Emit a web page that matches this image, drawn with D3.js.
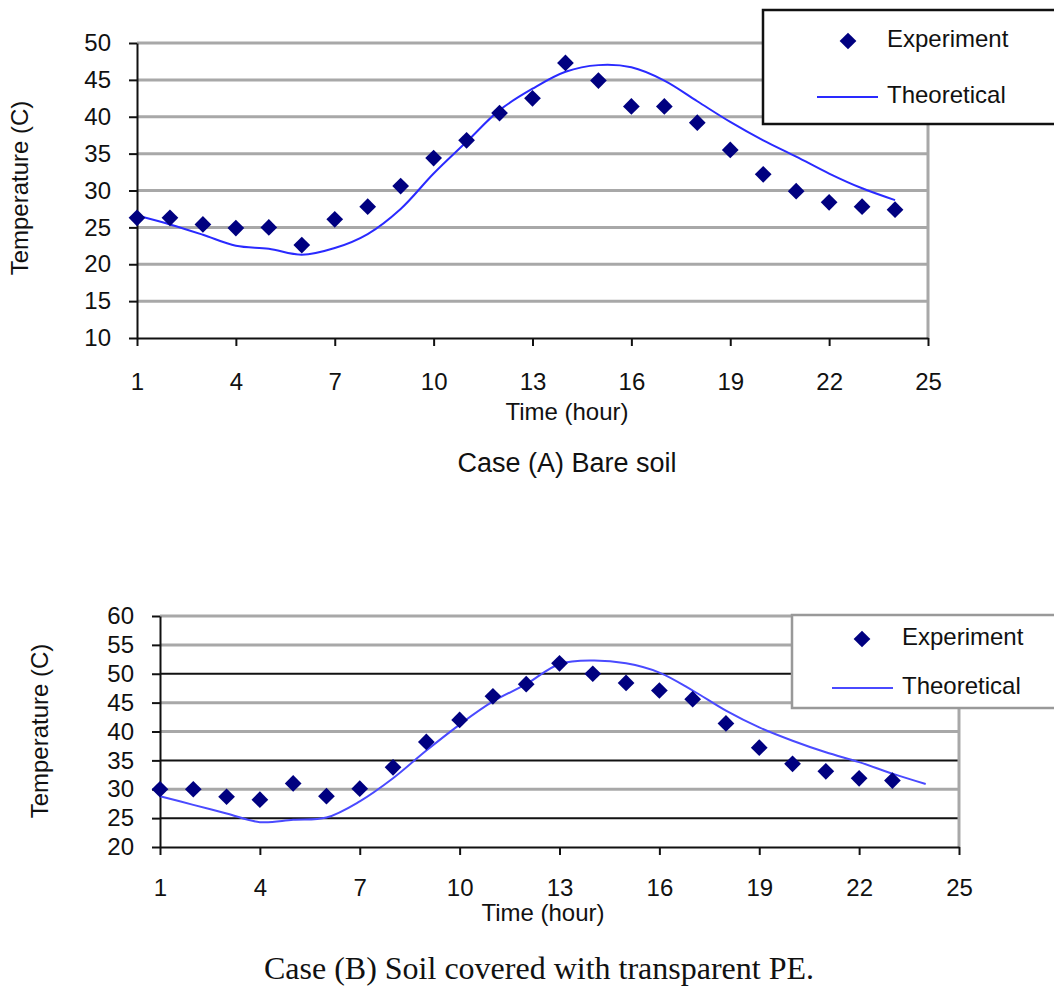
<!DOCTYPE html>
<html>
<head>
<meta charset="utf-8">
<script src="https://cdn.jsdelivr.net/npm/d3@7"></script>
<style>
  body { margin: 0; background: #fff; }
  svg { display: block; }
  text { font-family: "Liberation Sans", Arial, sans-serif; fill: #111; }
</style>
</head>
<body>
<script>
// données
const hours = [1, 2, 3, 4, 5, 6, 7, 8, 9, 10, 11, 12, 13, 14, 15, 16, 17, 18, 19, 20, 21, 22, 23, 24];
const xTicks = [1, 4, 7, 10, 13, 16, 19, 22, 25];

// Case (A) bare soil
const expA = [26.3, 26.3, 25.4, 24.9, 25.0, 22.6, 26.1, 27.8, 30.6, 34.4, 36.8, 40.5, 42.5, 47.3, 44.9, 41.4, 41.4, 39.2, 35.5, 32.2, 29.9, 28.4, 27.8, 27.4];
const theoA = [26.6, 25.4, 24.0, 22.5, 22.1, 21.3, 22.2, 24.1, 27.5, 32.3, 36.6, 40.9, 43.8, 46.1, 47.0, 46.7, 44.9, 42.1, 39.3, 36.8, 34.6, 32.3, 30.3, 28.7];
const yTicksA = [10, 15, 20, 25, 30, 35, 40, 45, 50];

// Case (B) transparent PE
const expB = [30.0, 30.0, 28.7, 28.2, 31.0, 28.8, 30.1, 33.8, 38.2, 42.0, 46.1, 48.2, 51.8, 50.0, 48.4, 47.1, 45.6, 41.4, 37.2, 34.4, 33.1, 31.9, 31.5];
const theoB = [28.8, 27.3, 25.8, 24.3, 24.7, 25.1, 27.9, 31.9, 36.7, 41.2, 45.2, 48.2, 51.7, 52.3, 51.8, 50.2, 47.1, 43.6, 40.7, 38.4, 36.4, 34.7, 32.7, 30.9];
const yTicksB = [20, 25, 30, 35, 40, 45, 50, 55, 60];
const darkLinesB = [25, 35, 50]; // lignes noires du graphe B

const svg = d3.select("body").append("svg")
  .attr("width", 1054)
  .attr("height", 989);

function drawChart(o) {
  const x = d3.scaleLinear().domain([1, 25]).range([o.left, o.right]);
  const y = d3.scaleLinear().domain(d3.extent(o.yTicks)).range([o.bottom, o.top]);
  const g = svg.append("g");

  // grille horizontale
  g.selectAll(".grid")
    .data(o.yTicks.slice(1))
    .enter().append("line")
    .attr("x1", o.left).attr("x2", o.right)
    .attr("y1", d => y(d)).attr("y2", d => y(d))
    .attr("stroke", d => o.dark.includes(d) ? "#111" : "#a8a8a8")
    .attr("stroke-width", d => o.dark.includes(d) ? 2 : 3);

  // bord droit gris
  g.append("line")
    .attr("x1", o.right).attr("x2", o.right)
    .attr("y1", o.top).attr("y2", o.bottom)
    .attr("stroke", "#a8a8a8").attr("stroke-width", 3);

  // axe y
  const ay = g.append("g")
    .attr("transform", "translate(" + o.left + ",0)")
    .call(d3.axisLeft(y).tickValues(o.yTicks).tickSize(8).tickSizeOuter(0).tickPadding(18));
  // axe x
  const ax = g.append("g")
    .attr("transform", "translate(0," + o.bottom + ")")
    .call(d3.axisBottom(x).tickValues(xTicks).tickSize(8).tickSizeOuter(0).tickPadding(o.xPad));
  [ay, ax].forEach(a => {
    a.select(".domain").attr("stroke", "#111").attr("stroke-width", 2);
    a.selectAll(".tick line").attr("stroke", "#111").attr("stroke-width", 2);
    a.selectAll(".tick text")
      .style("font-family", "'Liberation Sans', Arial, sans-serif")
      .style("font-size", "24px").attr("fill", "#111");
  });

  // courbe théorique
  const line = d3.line()
    .x((d, i) => x(hours[i]))
    .y(d => y(d))
    .curve(d3.curveCatmullRom.alpha(0.5));
  g.append("path")
    .datum(o.theo)
    .attr("fill", "none")
    .attr("stroke", o.lineColor)
    .attr("stroke-width", 2)
    .attr("d", line);

  // points expérimentaux
  const sym = d3.symbol().type(d3.symbolSquare).size(140);
  g.selectAll(".pt")
    .data(o.exp)
    .enter().append("path")
    .attr("d", sym)
    .attr("fill", "#000080")
    .attr("transform", (d, i) => "translate(" + x(hours[i]) + "," + y(d) + ") rotate(45)");

  // titres
  g.append("text")
    .attr("transform", "translate(" + o.yTitle[0] + "," + o.yTitle[1] + ") rotate(-90)")
    .attr("text-anchor", "middle").attr("dominant-baseline", "middle")
    .style("font-size", "24px").text("Temperature (C)");
  g.append("text")
    .attr("x", o.xTitle[0]).attr("y", o.xTitle[1])
    .attr("text-anchor", "middle").attr("dominant-baseline", "middle")
    .style("font-size", "24px").text("Time (hour)");
  g.append("text")
    .attr("x", o.caption[0]).attr("y", o.caption[1])
    .attr("text-anchor", "middle").attr("dominant-baseline", "middle")
    .style("font-family", o.captionFont)
    .style("font-size", o.captionSize).text(o.captionText);

  // légende
  const L = o.legend;
  const lg = g.append("g");
  lg.append("rect")
    .attr("x", L.x).attr("y", L.y).attr("width", 1070 - L.x).attr("height", L.h)
    .attr("fill", "#fff").attr("stroke", L.stroke).attr("stroke-width", 2.5);
  lg.append("path")
    .attr("d", sym)
    .attr("fill", "#000080")
    .attr("transform", "translate(" + L.symX + "," + L.row1 + ") rotate(45)");
  lg.append("line")
    .attr("x1", L.lineX[0]).attr("x2", L.lineX[1])
    .attr("y1", L.row2).attr("y2", L.row2)
    .attr("stroke", o.lineColor).attr("stroke-width", 2);
  lg.append("text").attr("x", L.textX).attr("y", L.row1)
    .attr("dominant-baseline", "middle").style("font-size", "24px").text("Experiment");
  lg.append("text").attr("x", L.textX).attr("y", L.row2)
    .attr("dominant-baseline", "middle").style("font-size", "24px").text("Theoretical");
}

drawChart({
  left: 137, right: 928, top: 43, bottom: 338,
  yTicks: yTicksA, dark: [], exp: expA, theo: theoA,
  lineColor: "#2a2aff", xPad: 27,
  yTitle: [22, 188], xTitle: [567, 414],
  caption: [567, 465], captionText: "Case (A) Bare soil",
  captionFont: "'Liberation Sans Narrow', 'Arial Narrow', 'Liberation Sans', sans-serif", captionSize: "27px",
  legend: { x: 763, y: 10, h: 114, stroke: "#111", symX: 848, row1: 41, row2: 97, lineX: [817, 878], textX: 887 }
});

drawChart({
  left: 160, right: 959, top: 616, bottom: 847,
  yTicks: yTicksB, dark: darkLinesB, exp: expB, theo: theoB,
  lineColor: "#4a4aff", xPad: 24,
  yTitle: [42, 731], xTitle: [543, 915],
  caption: [539, 972], captionText: "Case (B) Soil covered with transparent PE.",
  captionFont: "'Liberation Serif', 'Times New Roman', serif", captionSize: "32px",
  legend: { x: 792, y: 615, h: 93, stroke: "#999", symX: 862, row1: 639, row2: 688, lineX: [832, 893], textX: 902 }
});
</script>
</body>
</html>
